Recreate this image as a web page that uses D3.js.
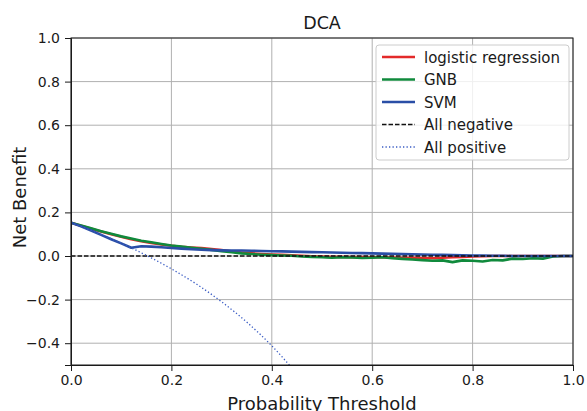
<!DOCTYPE html>
<html>
<head>
<meta charset="utf-8">
<script src="https://cdn.jsdelivr.net/npm/d3@7"></script>
<style>
  body { margin: 0; background: #fff; }
  text { font-family: "DejaVu Sans", sans-serif; fill: #1a1a1a; }
  .grid line { stroke: #b0b0b0; stroke-width: 1; }
  .axis path, .axis line { stroke: #1a1a1a; }
  .axis text { font-size: 14px; }
</style>
</head>
<body>
<div id="chart"></div>
<script>
// 1: DATA
const thresholds = [0,0.02,0.04,0.06,0.08,0.10,0.12,0.14,0.16,0.18,0.20,0.22,0.24,0.26,0.28,0.30,0.32,0.34,0.36,0.38,0.40,0.42,0.44,0.46,0.48,0.50,0.52,0.54,0.56,0.58,0.60,0.62,0.64,0.66,0.68,0.70,0.72,0.74,0.76,0.78,0.80,0.82,0.84,0.86,0.88,0.90,0.92,0.94,0.96,0.98,1.00];

const logisticNB = [0.153,0.139,0.125,0.112,0.100,0.088,0.077,0.068,0.060,0.053,0.047,0.042,0.039,0.036,0.032,0.027,0.021,0.016,0.012,0.009,0.007,0.005,0.003,0.001,-0.001,-0.003,-0.004,-0.004,-0.005,-0.005,-0.006,-0.006,-0.007,-0.008,-0.008,-0.009,-0.010,-0.008,-0.006,-0.004,-0.002,-0.001,0,0,0,0,0,0,0,0,0];

const gnbNB = [0.153,0.140,0.127,0.114,0.102,0.090,0.080,0.070,0.063,0.055,0.048,0.043,0.038,0.033,0.028,0.022,0.017,0.012,0.009,0.006,0.004,0.002,0.001,-0.002,-0.004,-0.006,-0.008,-0.006,-0.007,-0.009,-0.008,-0.006,-0.010,-0.013,-0.016,-0.019,-0.022,-0.020,-0.028,-0.020,-0.022,-0.025,-0.018,-0.020,-0.012,-0.014,-0.010,-0.012,-0.002,0,0];

const svmNB = [0.153,0.136,0.117,0.097,0.077,0.058,0.038,0.045,0.043,0.040,0.037,0.034,0.031,0.029,0.027,0.026,0.025,0.025,0.024,0.023,0.022,0.021,0.020,0.019,0.018,0.017,0.016,0.015,0.014,0.013,0.012,0.011,0.010,0.009,0.008,0.007,0.006,0.005,0.004,0.003,0.002,0.002,0.001,0.001,0,0,0,0,0,0,0];

// "All positive" curve
const allPosX = [0,0.05,0.10,0.15,0.20,0.25,0.30,0.35,0.40,0.45];
const allPosY = [0.153,0.108,0.059,0.003,-0.059,-0.129,-0.210,-0.303,-0.412,-0.540];

const xTicks = [0,0.2,0.4,0.6,0.8,1.0];
const yTicks = [-0.4,-0.2,0,0.2,0.4,0.6,0.8,1.0];

const seriesNames = ["logistic regression","GNB","SVM"];
const seriesColors = ["#e32a2a","#108a3c","#2a4ea6"];

// 2: SVG
const W = 587, H = 411;
const margin = { top: 38, right: 14, bottom: 46, left: 71 },
      width = W - margin.left - margin.right,
      height = H - margin.top - margin.bottom;

const svg = d3.select("#chart").append("svg")
    .attr("width", W).attr("height", H);
const g = svg.append("g")
    .attr("transform", `translate(${margin.left},${margin.top})`);

// 3: SCALES
const x = d3.scaleLinear().domain([0, 1]).range([0, width]);
const y = d3.scaleLinear().domain([-0.5, 1.0]).range([height, 0]);

// grid
g.append("g").attr("class", "grid")
    .selectAll("line.v").data(xTicks).enter().append("line")
    .attr("x1", d => x(d)).attr("x2", d => x(d))
    .attr("y1", 0).attr("y2", height);
g.append("g").attr("class", "grid")
    .selectAll("line.h").data(yTicks).enter().append("line")
    .attr("x1", 0).attr("x2", width)
    .attr("y1", d => y(d)).attr("y2", d => y(d));

// 4: LINES
g.append("clipPath").attr("id", "clip")
    .append("rect").attr("width", width).attr("height", height);
const plot = g.append("g").attr("clip-path", "url(#clip)");

const line = d3.line().x(d => x(d[0])).y(d => y(d[1]));

[logisticNB, gnbNB, svmNB].forEach((vals, i) => {
    plot.append("path")
        .datum(thresholds.map((t, j) => [t, vals[j]]))
        .attr("fill", "none")
        .attr("stroke", seriesColors[i])
        .attr("stroke-width", 2.6)
        .attr("stroke-linejoin", "round")
        .attr("d", line);
});

// all negative
plot.append("path")
    .datum([[0, 0], [1, 0]])
    .attr("fill", "none").attr("stroke", "#111")
    .attr("stroke-width", 1.3).attr("stroke-dasharray", "4.5,2")
    .attr("d", line);

// all positive
plot.append("path")
    .datum(allPosX.map((t, j) => [t, allPosY[j]]))
    .attr("fill", "none").attr("stroke", "#3a5cc4")
    .attr("stroke-width", 1.3).attr("stroke-dasharray", "1.3,2.2")
    .attr("d", d3.line().curve(d3.curveMonotoneX).x(d => x(d[0])).y(d => y(d[1])));

// 5: AXES
g.append("g").attr("class", "axis")
    .attr("transform", `translate(0,${height})`)
    .call(d3.axisBottom(x).tickValues(xTicks).tickFormat(d3.format(".1f")).tickSizeOuter(0).tickSize(6).tickPadding(4));
g.append("g").attr("class", "axis")
    .call(d3.axisLeft(y).tickValues(yTicks).tickFormat(d => d3.format(".1f")(d).replace("-", "\u2212")).tickSizeOuter(0).tickSize(6).tickPadding(5));

// frame
g.append("rect").attr("width", width).attr("height", height)
    .attr("fill", "none").attr("stroke", "#1a1a1a").attr("stroke-width", 1);

// 6: LABELS
svg.append("text").attr("x", margin.left + width / 2).attr("y", 29)
    .attr("text-anchor", "middle").style("font-size", "17.5px").text("DCA");
svg.append("text").attr("x", margin.left + width / 2).attr("y", 410)
    .attr("text-anchor", "middle").style("font-size", "18px").text("Probability Threshold");
svg.append("text")
    .attr("transform", `translate(26,${margin.top + height / 2 - 4}) rotate(-90)`)
    .attr("text-anchor", "middle").style("font-size", "18px").text("Net Benefit");

// 7: LEGEND
const leg = svg.append("g").attr("transform", "translate(376,45)");
leg.append("rect").attr("width", 193).attr("height", 115).attr("rx", 3)
    .attr("fill", "rgba(255,255,255,0.8)").attr("stroke", "#cccccc");
const legItems = [
    { name: seriesNames[0], color: seriesColors[0], w: 2.6, dash: null },
    { name: seriesNames[1], color: seriesColors[1], w: 2.6, dash: null },
    { name: seriesNames[2], color: seriesColors[2], w: 2.6, dash: null },
    { name: "All negative", color: "#111", w: 1.3, dash: "4.5,2" },
    { name: "All positive", color: "#3a5cc4", w: 1.3, dash: "1.3,2.2" }
];
legItems.forEach((d, i) => {
    const yy = 12 + i * 22.5;
    leg.append("line").attr("x1", 6).attr("x2", 39).attr("y1", yy).attr("y2", yy)
        .attr("stroke", d.color).attr("stroke-width", d.w)
        .attr("stroke-dasharray", d.dash);
    leg.append("text").attr("x", 48).attr("y", yy + 5.5)
        .style("font-size", "15px").text(d.name);
});
</script>
</body>
</html>
